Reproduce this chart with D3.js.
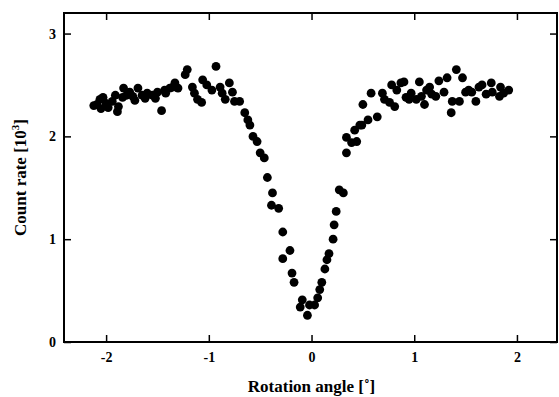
<!DOCTYPE html>
<html><head><meta charset="utf-8">
<script src="https://cdn.jsdelivr.net/npm/d3@7/dist/d3.min.js"></script>
<style>body{margin:0;background:#fff}svg{display:block}text{font-family:"Liberation Serif","DejaVu Serif",serif !important;font-weight:bold}</style>
</head><body>
<script>
const angle = [-2.12,-2.09,-2.06,-2.05,-2.03,-2.00,-1.98,-1.94,-1.91,-1.89,-1.88,-1.84,-1.83,-1.80,-1.77,-1.74,-1.72,-1.69,-1.65,-1.62,-1.60,-1.55,-1.52,-1.50,-1.46,-1.43,-1.42,-1.38,-1.35,-1.33,-1.30,
-1.23,-1.21,-1.16,-1.14,-1.11,-1.07,-1.06,-1.02,-0.97,-0.93,-0.89,-0.87,-0.84,-0.80,-0.77,-0.75,-0.70,-0.65,-0.62,-0.60,-0.57,-0.53,-0.50,-0.46,-0.43,-0.38,-0.39,-0.32,-0.28,-0.21,-0.28,-0.19,-0.17,-0.09,-0.11,-0.04,-0.02,0.03,0.06,0.08,0.10,0.13,0.15,0.17,0.21,0.22,0.24,0.27,0.31,0.34,0.34,0.39,0.44,0.42,0.47,
0.49,0.50,0.55,0.58,0.64,0.69,0.71,0.76,0.78,0.81,0.83,0.87,0.90,0.92,0.95,0.97,1.02,1.05,1.07,1.10,1.12,1.15,1.17,1.21,1.24,1.29,1.32,1.36,1.37,1.41,1.44,1.47,1.50,1.53,1.56,1.60,1.63,1.66,1.70,1.75,1.76,1.83,1.84,1.87,1.92];
const countRate = [2.30,2.31,2.36,2.27,2.38,2.32,2.28,2.34,2.40,2.24,2.29,2.38,2.47,2.40,2.43,2.39,2.35,2.47,2.40,2.37,2.42,2.40,2.37,2.43,2.25,2.45,2.42,2.47,2.48,2.52,2.47,
2.60,2.65,2.48,2.42,2.36,2.33,2.55,2.50,2.45,2.68,2.48,2.42,2.36,2.52,2.43,2.34,2.34,2.23,2.16,2.11,2.00,1.95,1.84,1.79,1.60,1.45,1.33,1.30,1.07,0.89,0.81,0.67,0.58,0.41,0.34,0.26,0.36,0.36,0.43,0.51,0.58,0.71,0.80,0.86,1.00,1.14,1.27,1.48,1.45,1.84,1.99,1.94,1.95,2.06,2.11,
2.11,2.31,2.16,2.42,2.19,2.42,2.36,2.33,2.50,2.29,2.45,2.52,2.53,2.38,2.36,2.42,2.36,2.53,2.39,2.31,2.45,2.48,2.41,2.39,2.54,2.43,2.57,2.23,2.34,2.65,2.34,2.57,2.43,2.45,2.43,2.34,2.48,2.50,2.41,2.52,2.43,2.39,2.48,2.42,2.45];
const xTicks = [-2,-1,0,1,2];
const yTicks = [0,1,2,3];

const W = 559, H = 397;
const m = {l:64, r:2, t:13, b:55};
const svg = d3.select("body").append("svg").attr("width",W).attr("height",H);
const x = d3.scaleLinear().domain([-2.41,2.39]).range([m.l, W-m.r]);
const y = d3.scaleLinear().domain([0,3.2]).range([H-m.b, m.t]);
const fmt = d => String(d).replace("\u2212","-");

const g = svg.append("g");
g.append("g").attr("transform",`translate(0,${y(0)})`)
  .call(d3.axisBottom(x).tickValues(xTicks).tickSize(-7).tickPadding(10).tickFormat(fmt))
  .call(a=>a.select(".domain").remove());
g.append("g").attr("transform",`translate(0,${m.t})`)
  .call(d3.axisTop(x).tickValues(xTicks).tickSize(-7).tickFormat(""))
  .call(a=>a.select(".domain").remove());
g.append("g").attr("transform",`translate(${m.l},0)`)
  .call(d3.axisLeft(y).tickValues(yTicks).tickSize(-7).tickPadding(8).tickFormat(fmt))
  .call(a=>a.select(".domain").remove());
g.append("g").attr("transform",`translate(${W-m.r},0)`)
  .call(d3.axisRight(y).tickValues(yTicks).tickSize(-7).tickFormat(""))
  .call(a=>a.select(".domain").remove());
g.selectAll(".tick line").attr("stroke","#000").attr("stroke-width",1.5);
g.selectAll(".tick text").style("font-size","14px").attr("fill","#000");

svg.append("rect").attr("x",m.l).attr("y",m.t).attr("width",W-m.r-m.l).attr("height",y(0)-m.t)
  .attr("fill","none").attr("stroke","#000").attr("stroke-width",2);

svg.append("g").selectAll("circle").data(angle.map((a,i)=>[a,countRate[i]])).join("circle")
  .attr("cx",d=>x(d[0])).attr("cy",d=>y(d[1])).attr("r",4.4).attr("fill","#000");

svg.append("text").attr("x",x(0)).attr("y",392).attr("text-anchor","middle")
  .style("font-size","17px").text("Rotation angle [˚]");
const yl = svg.append("text").attr("transform",`translate(26,${(m.t+y(0))/2}) rotate(-90)`).attr("text-anchor","middle")
  .style("font-size","17px");
yl.append("tspan").text("Count rate [10");
yl.append("tspan").style("font-size","11px").attr("dy",-7).text("3");
yl.append("tspan").attr("dy",7).text("]");
</script>
</body></html>
